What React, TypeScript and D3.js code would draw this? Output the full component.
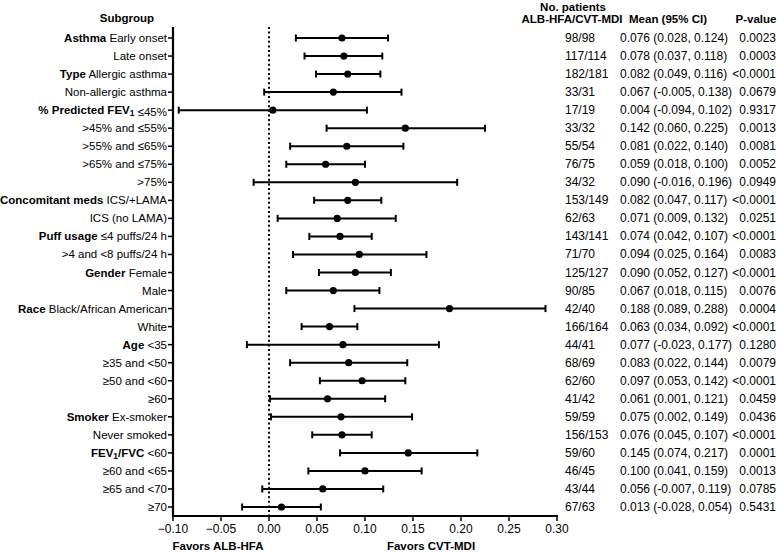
import React from "react";
import * as d3 from "d3";

const groupLabels = ["Asthma", "", "Type", "", "% Predicted FEV_1", "", "", "", "", "Concomitant meds", "", "Puff usage", "", "Gender", "", "Race", "", "Age", "", "", "", "Smoker", "", "FEV_1/FVC", "", "", ""];
const subLabels = ["Early onset", "Late onset", "Allergic asthma", "Non-allergic asthma", "≤45%", ">45% and ≤55%", ">55% and ≤65%", ">65% and ≤75%", ">75%", "ICS/+LAMA", "ICS (no LAMA)", "≤4 puffs/24 h", ">4 and <8 puffs/24 h", "Female", "Male", "Black/African American", "White", "<35", "≥35 and <50", "≥50 and <60", "≥60", "Ex-smoker", "Never smoked", "<60", "≥60 and <65", "≥65 and <70", "≥70"];
const patients = ["98/98", "117/114", "182/181", "33/31", "17/19", "33/32", "55/54", "76/75", "34/32", "153/149", "62/63", "143/141", "71/70", "125/127", "90/85", "42/40", "166/164", "44/41", "68/69", "62/60", "41/42", "59/59", "156/153", "59/60", "46/45", "43/44", "67/63"];
const means = [0.076, 0.078, 0.082, 0.067, 0.004, 0.142, 0.081, 0.059, 0.090, 0.082, 0.071, 0.074, 0.094, 0.090, 0.067, 0.188, 0.063, 0.077, 0.083, 0.097, 0.061, 0.075, 0.076, 0.145, 0.100, 0.056, 0.013];
const lows = [0.028, 0.037, 0.049, -0.005, -0.094, 0.060, 0.022, 0.018, -0.016, 0.047, 0.009, 0.042, 0.025, 0.052, 0.018, 0.089, 0.034, -0.023, 0.022, 0.053, 0.001, 0.002, 0.045, 0.074, 0.041, -0.007, -0.028];
const highs = [0.124, 0.118, 0.116, 0.138, 0.102, 0.225, 0.140, 0.100, 0.196, 0.117, 0.132, 0.107, 0.164, 0.127, 0.115, 0.288, 0.092, 0.177, 0.144, 0.142, 0.121, 0.149, 0.107, 0.217, 0.159, 0.119, 0.054];
const pValues = ["0.0023", "0.0003", "<0.0001", "0.0679", "0.9317", "0.0013", "0.0081", "0.0052", "0.0949", "<0.0001", "0.0251", "<0.0001", "0.0083", "<0.0001", "0.0076", "0.0004", "<0.0001", "0.1280", "0.0079", "<0.0001", "0.0459", "0.0436", "<0.0001", "0.0001", "0.0013", "0.0785", "0.5431"];
const xTicks = [-0.1, -0.05, 0, 0.05, 0.1, 0.15, 0.2, 0.25, 0.3];

const W = 778;
const H = 552;
const FONT = "'Liberation Sans', Arial, Helvetica, sans-serif";

function renderBold(label: string) {
  const parts = label.split("_1");
  const out: React.ReactNode[] = [];
  parts.forEach((p, i) => {
    out.push(
      <tspan key={"b" + i} fontWeight="bold" dy={i > 0 ? -2 : undefined}>
        {p}
      </tspan>
    );
    if (i < parts.length - 1) {
      out.push(
        <tspan key={"s" + i} fontWeight="bold" fontSize={8.5} dy={2}>
          1
        </tspan>
      );
    }
  });
  return out;
}

export default function App() {
  const x = d3.scaleLinear().domain([-0.1, 0.3]).range([173, 557]);
  const y = d3.scalePoint<number>().domain(d3.range(means.length)).range([38, 507]);
  const axisTop = 27;
  const axisY = 516;
  const fmt = d3.format(".2f");

  return (
    <svg width={W} height={H} style={{ position: "absolute", left: 0, top: 0, background: "#fff" }} fontFamily={FONT}>
      <rect width={W} height={H} fill="#fff" />
      {/* headers */}
      <text x={127} y={22} textAnchor="middle" fontSize={11.5} fontWeight="bold">Subgroup</text>
      <text x={573} y={11} textAnchor="middle" fontSize={11.5} fontWeight="bold">No. patients</text>
      <text x={572} y={23} textAnchor="middle" fontSize={11.5} fontWeight="bold">ALB-HFA/CVT-MDI</text>
      <text x={668} y={23} textAnchor="middle" fontSize={11.5} fontWeight="bold">Mean (95% CI)</text>
      <text x={756} y={23} textAnchor="middle" fontSize={11.5} fontWeight="bold">P-value</text>

      {/* zero reference dotted line */}
      <line x1={x(0)} x2={x(0)} y1={axisTop} y2={axisY} stroke="#000" strokeWidth={2} strokeDasharray="2,2.6" />

      {/* y axis */}
      <line x1={173} x2={173} y1={axisTop} y2={axisY + 1} stroke="#000" strokeWidth={2.2} />
      {means.map((_, i) => (
        <g key={"yl" + i}>
          <line x1={168} x2={173} y1={y(i)!} y2={y(i)!} stroke="#000" strokeWidth={1.5} />
          <text x={167} y={y(i)! + 4} textAnchor="end" fontSize={11.5}>
            {groupLabels[i] ? renderBold(groupLabels[i]) : null}
            {groupLabels[i] ? " " : ""}
            <tspan>{subLabels[i]}</tspan>
          </text>
        </g>
      ))}

      {/* x axis */}
      <line x1={172} x2={558} y1={axisY} y2={axisY} stroke="#000" strokeWidth={2.2} />
      {xTicks.map((t) => (
        <g key={"xt" + t}>
          <line x1={x(t)} x2={x(t)} y1={axisY} y2={axisY + 5} stroke="#000" strokeWidth={1.5} />
          <text x={x(t)} y={axisY + 17} textAnchor="middle" fontSize={12}>
            {fmt(t)}
          </text>
        </g>
      ))}
      <text x={218} y={550} textAnchor="middle" fontSize={11.5} fontWeight="bold">Favors ALB-HFA</text>
      <text x={431} y={550} textAnchor="middle" fontSize={11.5} fontWeight="bold">Favors CVT-MDI</text>

      {/* error bars */}
      {means.map((m, i) => {
        const cy = y(i)!;
        return (
          <g key={"eb" + i}>
            <line x1={x(lows[i])} x2={x(highs[i])} y1={cy} y2={cy} stroke="#000" strokeWidth={2} />
            <line x1={x(lows[i])} x2={x(lows[i])} y1={cy - 3.5} y2={cy + 3.5} stroke="#000" strokeWidth={2} />
            <line x1={x(highs[i])} x2={x(highs[i])} y1={cy - 3.5} y2={cy + 3.5} stroke="#000" strokeWidth={2} />
            <circle cx={x(m)} cy={cy} r={3.6} fill="#000" />
          </g>
        );
      })}

      {/* table */}
      {means.map((m, i) => {
        const cy = y(i)! + 4;
        return (
          <g key={"tb" + i} fontSize={12}>
            <text x={565} y={cy}>{patients[i]}</text>
            <text x={620} y={cy}>{`${m.toFixed(3)} (${lows[i].toFixed(3)}, ${highs[i].toFixed(3)})`}</text>
            <text x={776} y={cy} textAnchor="end">{pValues[i]}</text>
          </g>
        );
      })}
    </svg>
  );
}
